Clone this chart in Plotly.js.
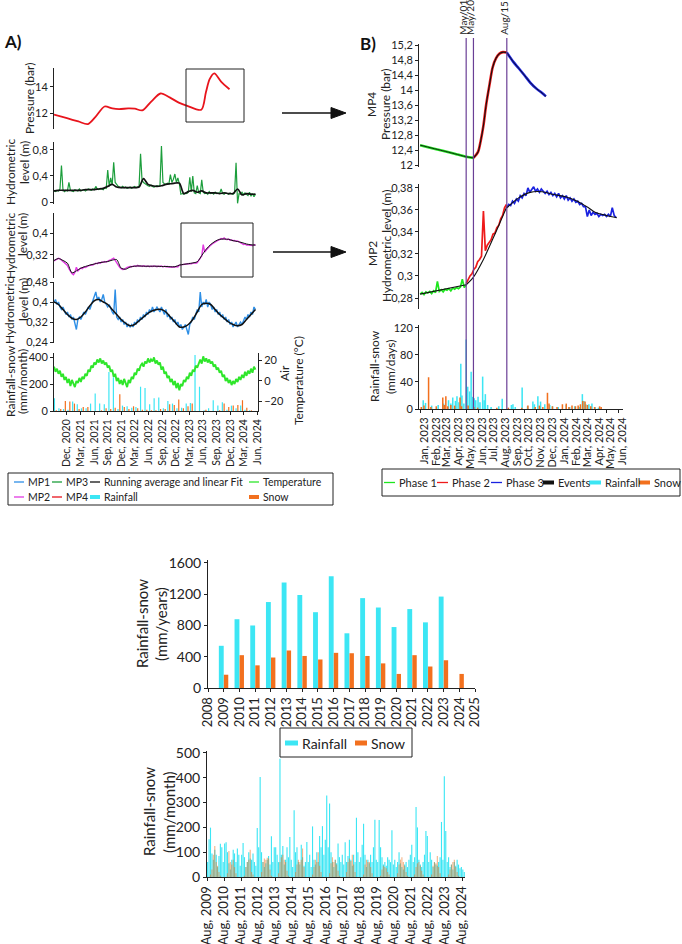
<!DOCTYPE html>
<html>
<head>
<meta charset="utf-8">
<script src="https://cdn.plot.ly/plotly-3.0.1.min.js"></script>
<style>
  html, body { margin: 0; padding: 0; background: #fff; }
  #chart { width: 682px; height: 944px; }
</style>
</head>
<body>
<div id="chart"></div>
<script>
// ---------------- Panel A : monitoring 2020-2024 ----------------
// MP4 pressure (bar), key points of the smoothed record
const pressA_dates = ['2020-09-05','2020-12-01','2021-02-15','2021-04-20','2021-06-10','2021-08-10','2021-10-01','2021-11-15','2022-01-15','2022-03-01','2022-04-20','2022-06-20','2022-08-20','2022-10-20','2022-12-20','2023-02-15','2023-05-20','2023-06-20','2023-07-15','2023-08-15','2023-10-01','2023-11-25'];
const pressA = [11.87,11.6,11.35,11.15,11.7,12.5,12.35,12.3,12.35,12.33,12.2,12.9,13.5,13.2,12.8,12.55,12.25,13.6,14.6,15.05,14.4,13.83];

// 10-day samples starting 2020-09-05
const A_START = '2020-09-05';
const A_STEP = 10;
const mp3 = [0.17,0.16,0.18,0.17,0.2,0.56,0.19,0.16,0.18,0.17,
  0.3,0.18,0.17,0.16,0.19,0.18,0.17,0.2,0.17,0.18,
  0.19,0.17,0.18,0.2,0.19,0.18,0.2,0.19,0.24,0.2,
  0.19,0.21,0.2,0.19,0.22,0.21,0.49,0.24,0.37,0.26,
  0.61,0.3,0.27,0.24,0.23,0.22,0.24,0.22,0.23,0.21,
  0.22,0.23,0.21,0.22,0.24,0.22,0.23,0.24,0.74,0.33,
  0.3,0.28,0.26,0.25,0.24,0.26,0.24,0.23,0.24,0.25,
  0.24,0.25,0.86,0.3,0.28,0.27,0.29,0.28,0.42,0.3,
  0.35,0.43,0.3,0.37,0.28,0.12,0.13,0.12,0.14,0.13,
  0.15,0.38,0.16,0.4,0.14,0.13,0.25,0.14,0.13,0.34,
  0.15,0.13,0.14,0.12,0.16,0.13,0.14,0.12,0.15,0.13,
  0.14,0.13,0.2,0.13,0.12,0.14,0.13,0.12,0.14,0.13,
  0.12,0.14,0.6,-0.02,0.13,0.12,0.15,0.11,0.14,0.12,
  0.1,0.15,0.09,0.13,0.08,0.12];
const mp2 = [0.298,0.302,0.305,0.308,0.306,0.300,0.296,0.292,0.288,0.282,
  0.27,0.26,0.252,0.248,0.256,0.275,0.262,0.268,0.272,0.27,
  0.276,0.274,0.278,0.28,0.282,0.284,0.283,0.287,0.29,0.288,
  0.292,0.29,0.294,0.293,0.296,0.294,0.298,0.30,0.302,0.305,
  0.308,0.30,0.29,0.282,0.275,0.27,0.267,0.268,0.272,0.275,
  0.276,0.278,0.277,0.279,0.28,0.278,0.282,0.279,0.28,0.278,
  0.281,0.279,0.278,0.28,0.277,0.279,0.278,0.28,0.279,0.277,
  0.279,0.278,0.28,0.276,0.279,0.277,0.278,0.276,0.277,0.275,
  0.277,0.276,0.278,0.276,0.283,0.284,0.285,0.286,0.287,0.286,
  0.288,0.289,0.288,0.29,0.291,0.29,0.292,0.30,0.31,0.316,
  0.358,0.33,0.338,0.345,0.35,0.356,0.36,0.364,0.368,0.372,
  0.374,0.376,0.38,0.378,0.382,0.377,0.376,0.378,0.374,0.375,
  0.372,0.373,0.37,0.371,0.368,0.366,0.362,0.358,0.36,0.356,
  0.357,0.355,0.356,0.354,0.358,0.355];
const mp1 = [0.40,0.41,0.39,0.40,0.38,0.37,0.38,0.36,0.35,0.36,
  0.34,0.35,0.33,0.34,0.32,0.29,0.33,0.34,0.33,0.35,
  0.36,0.35,0.37,0.38,0.37,0.39,0.40,0.42,0.44,0.41,
  0.42,0.40,0.41,0.43,0.40,0.39,0.38,0.39,0.37,0.36,
  0.35,0.45,0.34,0.33,0.34,0.32,0.33,0.31,0.32,0.30,
  0.31,0.30,0.31,0.30,0.32,0.31,0.33,0.32,0.34,0.33,
  0.35,0.34,0.36,0.35,0.37,0.36,0.38,0.36,0.37,0.38,
  0.37,0.36,0.38,0.36,0.35,0.37,0.34,0.35,0.33,0.34,
  0.32,0.33,0.31,0.32,0.30,0.31,0.29,0.30,0.31,0.29,
  0.27,0.31,0.32,0.34,0.33,0.35,0.37,0.36,0.44,0.38,
  0.40,0.39,0.41,0.38,0.40,0.39,0.37,0.38,0.36,0.37,
  0.35,0.36,0.34,0.35,0.33,0.34,0.32,0.33,0.31,0.32,
  0.30,0.31,0.32,0.30,0.31,0.32,0.31,0.33,0.34,0.33,
  0.35,0.34,0.36,0.35,0.38,0.37];
const tempA = [14,9,12,7,10,4,7,1,4,-2,
  2,-5,1,-3,-6,0,-2,3,-1,4,
  2,7,5,11,9,15,13,18,16,21,
  18,22,17,20,16,18,13,15,9,11,
  4,7,0,3,-3,1,-4,2,-2,-6,
  1,-2,4,2,8,6,12,10,15,17,
  14,19,17,22,18,21,19,23,17,20,
  16,18,11,14,7,9,3,5,-1,2,
  -4,0,-7,-2,-9,-3,-5,1,-1,4,
  2,8,5,11,9,15,13,18,21,17,
  24,19,22,18,21,17,19,14,16,11,
  13,8,10,4,6,0,3,-2,1,-4,
  0,-3,2,-1,4,1,6,3,9,5,
  10,7,12,8,14,11];

// running averages, 30-day samples starting 2020-09-05
const AVG_STEP = 30;
const mp3Avg = [0.17,0.18,0.18,0.18,0.18,0.18,0.18,0.19,0.19,0.19,
  0.2,0.21,0.24,0.27,0.23,0.22,0.22,0.22,0.22,0.23,
  0.36,0.27,0.25,0.24,0.25,0.27,0.28,0.29,0.29,0.13,
  0.16,0.18,0.15,0.17,0.14,0.14,0.14,0.13,0.14,0.13,
  0.13,0.2,0.11,0.13,0.12,0.12];
const mp2Avg = [0.30,0.307,0.30,0.29,0.255,0.262,0.272,0.278,0.283,0.287,
  0.291,0.294,0.296,0.301,0.303,0.272,0.268,0.276,0.279,0.28,
  0.279,0.279,0.279,0.279,0.278,0.278,0.277,0.277,0.283,0.286,
  0.288,0.291,0.295,0.318,0.341,0.358,0.37,0.377,0.378,0.377,
  0.372,0.369,0.365,0.36,0.357,0.356];
const mp1Avg = [0.40,0.39,0.37,0.35,0.335,0.33,0.34,0.36,0.385,0.405,
  0.41,0.40,0.39,0.37,0.35,0.33,0.315,0.305,0.31,0.325,
  0.34,0.355,0.365,0.37,0.37,0.36,0.34,0.32,0.30,0.30,
  0.31,0.33,0.36,0.39,0.395,0.39,0.37,0.35,0.335,0.32,
  0.31,0.305,0.31,0.33,0.35,0.37];

// monthly rainfall / snow (mm/month), Sep 2020 - May 2024
const rainA = [95,20,15,10,70,50,20,20,55,130,55,50,290,250,15,40,35,25,30,180,170,50,95,100,20,75,55,20,25,55,60,415,180,5,20,80,40,65,10,40,20,40,10,5,0];
const snowA = [5,15,75,70,55,15,30,30,0,0,5,20,15,25,125,30,15,35,20,10,10,5,5,15,15,50,45,85,20,35,55,0,0,10,0,0,5,55,30,40,45,80,25,5,0];

// ---------------- Panel B : 2023-2024 detail ----------------
const p1Dates = ['2023-01-01','2023-02-01','2023-03-01','2023-04-01','2023-05-01','2023-05-20'];
const p1Press = [12.53,12.45,12.38,12.30,12.22,12.19];
const p2Dates = ['2023-05-20','2023-06-01','2023-06-08','2023-06-15','2023-06-22','2023-07-01','2023-07-09','2023-07-18','2023-07-27','2023-08-05','2023-08-15'];
const p2Press = [12.19,12.35,12.65,13.05,13.6,14.15,14.6,14.85,14.97,15.01,15.0];
const p3Dates = ['2023-08-15','2023-09-01','2023-09-15','2023-10-01','2023-10-15','2023-11-01','2023-11-15','2023-11-25'];
const p3Press = [15.0,14.75,14.58,14.38,14.2,14.03,13.92,13.83];

// MP2 level, 5-day samples per phase
const B_STEP = 5;
const ph1Start = '2023-01-01';
const ph1Level = [0.2835,0.2850,0.2830,0.2855,0.2845,0.2860,0.2840,0.2865,0.2850,0.2950,0.2860,0.2875,0.2855,0.2880,0.2870,0.2885,0.2865,0.2890,0.2880,0.2895,0.2885,0.2900,0.2970,0.2895,0.2920];
const ph2Start = '2023-05-01';
const ph2Level = [0.293,0.297,0.300,0.302,0.306,0.308,0.313,0.315,0.318,0.359,0.323,0.328,0.330,0.333,0.338,0.339,0.344,0.346,0.352,0.355,0.362,0.365];
const ph3Start = '2023-08-15';
const ph3Level = [0.362,0.365,0.364,0.368,0.366,0.370,0.368,0.373,0.371,0.375,
  0.373,0.380,0.376,0.378,0.381,0.377,0.379,0.376,0.379,0.377,
  0.375,0.377,0.374,0.376,0.373,0.375,0.372,0.375,0.371,0.373,
  0.370,0.373,0.369,0.371,0.368,0.370,0.367,0.368,0.365,0.366,
  0.363,0.363,0.354,0.360,0.355,0.358,0.356,0.357,0.354,0.356,
  0.355,0.356,0.354,0.356,0.354,0.362,0.355,0.353];
const fit1Dates = ['2023-01-01','2023-05-01'];
const fit1 = [0.2835,0.292];
const fit2Dates = ['2023-05-01','2023-05-20','2023-06-15','2023-07-15','2023-08-15'];
const fit2 = [0.292,0.299,0.315,0.338,0.363];
const fit3Dates = ['2023-08-15','2023-09-15','2023-10-15','2023-11-15','2023-12-15','2024-01-15','2024-02-15','2024-03-15','2024-04-01','2024-05-01','2024-05-28'];
const fit3 = [0.362,0.371,0.376,0.3765,0.374,0.372,0.368,0.362,0.358,0.355,0.353];

const eventDates = ['2023-05-01','2023-05-20','2023-08-15'];
const eventLabels = ['May/01','May/20','Aug/15'];

// daily rainfall and snow (mm/day), days with a reading
const rainB_dates = ['2023-01-09','2023-01-15','2023-01-31','2023-02-17','2023-03-03','2023-03-16','2023-03-22','2023-03-27','2023-04-03','2023-04-07','2023-04-12','2023-04-17','2023-04-20','2023-04-25','2023-05-01','2023-05-05','2023-05-10','2023-05-14','2023-05-18','2023-05-22','2023-05-26','2023-06-01','2023-06-06','2023-06-13','2023-06-17','2023-06-20','2023-06-26','2023-07-05','2023-07-25','2023-08-03','2023-08-27','2023-08-31','2023-09-06','2023-09-24','2023-10-08','2023-10-22','2023-10-26','2023-11-04','2023-11-11','2023-11-22','2023-12-05','2023-12-12','2023-12-27','2024-01-17','2024-01-26','2024-02-08','2024-02-20','2024-02-28','2024-03-03','2024-03-08','2024-03-16','2024-03-24','2024-04-01','2024-04-10'];
const rainB = [13,9,5,6,8,13,8,17,12,19,10,67,20,8,103,33,26,55,18,16,13,18,10,48,13,22,6,3,4,15,6,7,3,32,4,11,7,19,11,7,6,4,3,6,3,4,3,22,12,7,7,8,3,2];
const snowB_dates = ['2023-01-04','2023-01-11','2023-01-23','2023-01-29','2023-02-12','2023-03-01','2023-03-05','2023-03-09','2023-03-14','2023-03-22','2023-04-01','2023-04-15','2023-04-19','2023-05-06','2023-05-21','2023-05-31','2023-07-20','2023-08-19','2023-09-23','2023-10-09','2023-10-28','2023-11-08','2023-11-17','2023-11-29','2023-12-03','2023-12-12','2023-12-24','2024-01-07','2024-01-17','2024-01-24','2024-02-01','2024-02-10','2024-02-17','2024-02-23','2024-02-29','2024-03-06','2024-03-12','2024-03-21','2024-03-31','2024-04-13','2024-04-17'];
const snowB = [3,5,47,3,4,17,6,19,4,6,5,17,4,5,3,2,2,2,2,5,3,5,3,24,8,4,3,7,8,3,5,4,5,7,12,11,6,4,3,4,3];

// ---------------- Annual totals 2009-2024 ----------------
const years = [2009,2010,2011,2012,2013,2014,2015,2016,2017,2018,2019,2020,2021,2022,2023,2024];
const rainYear = [540,880,800,1100,1350,1190,970,1430,700,1150,1030,780,1010,840,1170,null];
const snowYear = [170,420,290,390,480,410,365,450,445,410,315,180,420,275,355,180];

// ---------------- Monthly record, Aug 2009 - Sep 2024 ----------------
const rainMonth = [60,152,199,95,70,110,90,40,85,134,120,60,
  135,140,100,55,30,70,110,95,60,115,90,45,
  90,137,80,40,60,100,75,70,95,60,45,198,
  120,403,100,60,40,55,70,85,50,164,60,120,
  120,90,60,477,90,125,50,70,120,80,161,70,
  40,269,100,120,60,50,130,80,45,60,141,60,
  90,40,204,70,50,100,60,165,120,205,90,150,
  329,120,296,100,60,40,70,55,135,80,60,90,
  50,140,60,85,150,70,45,90,60,239,100,60,
  80,130,215,90,40,70,55,90,60,120,231,70,
  60,230,120,80,50,60,45,80,70,60,188,50,
  70,40,60,100,55,40,30,50,60,40,70,90,
  130,60,80,282,200,70,50,40,60,90,185,165,
  60,100,70,40,60,50,45,60,80,222,70,406,
  185,60,80,40,50,30,60,45,70,50,35,40,30,20];
const snowMonth = [0,0,10,30,90,125,60,45,20,5,0,0,
  0,0,15,105,60,50,70,40,15,0,0,0,
  0,0,5,40,60,70,110,20,10,0,0,0,
  0,0,20,60,75,70,78,75,30,5,0,0,
  0,0,15,60,80,90,70,60,25,5,0,0,
  0,0,20,50,70,60,70,115,40,0,0,0,
  0,0,10,40,70,60,100,45,20,0,0,0,
  0,0,15,55,80,60,70,50,25,5,0,0,
  0,0,20,60,75,65,90,50,20,0,0,0,
  0,0,10,50,70,60,60,40,15,0,0,0,
  0,0,5,30,45,40,35,20,10,0,0,0,
  0,0,15,50,70,80,60,45,20,5,0,0,
  0,0,10,40,55,60,45,25,10,0,0,0,
  0,0,10,45,60,55,85,40,15,0,0,0,
  0,0,10,30,50,60,70,40,20,5,0,0,0,0];

// ---------------- helpers ----------------
const W = 682, H = 944;
const X = px => px / W;
const Y = py => 1 - py / H;
const DAY = 86400000;
const FONT = 'Lato, "Noto Sans", sans-serif';
const INK = '#222';

function daySeries(start, step, n) {
  const t0 = Date.parse(start + 'T00:00:00Z');
  const out = [];
  for (let i = 0; i < n; i++) out.push(new Date(t0 + i * step * DAY).toISOString().slice(0, 10));
  return out;
}
function monthSeries(year, month, n) {
  const out = [];
  for (let i = 0; i < n; i++) {
    const m = month - 1 + i;
    const y = year + Math.floor(m / 12);
    out.push(y + '-' + String((m % 12) + 1).padStart(2, '0') + '-15');
  }
  return out;
}

const C = {
  mp1: '#2e8fe6', mp2: '#e23ae2', mp3: '#1c9e3c', mp4: '#e8141c',
  temp: '#2ee62a', rain: '#3ce6f4', snow: '#f2701e',
  ph1: '#1ee61e', ph2: '#ee1a1a', ph3: '#1a22e0', evt: '#6a3f96'
};

const aDates = daySeries(A_START, A_STEP, mp1.length);
const aAvgDates = daySeries(A_START, AVG_STEP, mp1Avg.length);
const aMonths = monthSeries(2020, 9, rainA.length);
const bottomMonths = monthSeries(2009, 8, rainMonth.length);

const line = (x, y, xa, ya, color, width) => ({
  type: 'scatter', mode: 'lines', x, y, xaxis: xa, yaxis: ya,
  line: { color, width }, hoverinfo: 'skip'
});
const bars = (x, y, xa, ya, color, offset, width) => ({
  type: 'bar', x, y, xaxis: xa, yaxis: ya, offset, width,
  marker: { color, line: { width: 0 } }, hoverinfo: 'skip'
});
function sp(tr) { tr.line.shape = 'spline'; tr.line.smoothing = 0.8; return tr; }

const traces = [
  // Panel A
  sp(line(pressA_dates, pressA, 'x', 'y', C.mp4, 1.8)),
  line(aDates, mp3, 'x', 'y2', C.mp3, 1.2),
  sp(line(aAvgDates, mp3Avg, 'x', 'y2', '#111', 1.7)),
  line(aDates, mp2, 'x', 'y3', C.mp2, 1.4),
  sp(line(aAvgDates, mp2Avg, 'x', 'y3', '#111', 1.0)),
  line(aDates, mp1, 'x', 'y4', C.mp1, 1.4),
  sp(line(aAvgDates, mp1Avg, 'x', 'y4', '#111', 1.5)),
  bars(aMonths, rainA, 'x', 'y5', C.rain, -11 * DAY, 8 * DAY),
  bars(aMonths, snowA, 'x', 'y5', C.snow, 1 * DAY, 8 * DAY),
  line(aDates, tempA, 'x', 'y6', C.temp, 1.9),

  // Panel B : pressure by phase, fitted line on top
  sp(line(p1Dates, p1Press, 'x2', 'y7', C.ph1, 2.6)),
  sp(line(p2Dates, p2Press, 'x2', 'y7', C.ph2, 2.6)),
  sp(line(p3Dates, p3Press, 'x2', 'y7', C.ph3, 2.6)),
  sp(line(p1Dates, p1Press, 'x2', 'y7', '#111', 0.9)),
  sp(line(p2Dates, p2Press, 'x2', 'y7', '#111', 1.1)),
  sp(line(p3Dates, p3Press, 'x2', 'y7', '#111', 0.9)),
  // Panel B : MP2 level by phase
  line(daySeries(ph1Start, B_STEP, ph1Level.length), ph1Level, 'x2', 'y8', C.ph1, 1.7),
  line(daySeries(ph2Start, B_STEP, ph2Level.length), ph2Level, 'x2', 'y8', C.ph2, 1.7),
  line(daySeries(ph3Start, B_STEP, ph3Level.length), ph3Level, 'x2', 'y8', C.ph3, 1.7),
  line(fit1Dates, fit1, 'x2', 'y8', '#111', 1.1),
  sp(line(fit2Dates, fit2, 'x2', 'y8', '#111', 1.1)),
  sp(line(fit3Dates, fit3, 'x2', 'y8', '#111', 1.1)),
  // Panel B : daily precipitation
  bars(rainB_dates, rainB, 'x2', 'y9', C.rain, -2 * DAY, 4 * DAY),
  bars(snowB_dates, snowB, 'x2', 'y9', C.snow, -2 * DAY, 4 * DAY),

  // Annual totals
  bars(years, rainYear, 'x3', 'y10', C.rain, -0.31, 0.31),
  bars(years, snowYear, 'x3', 'y10', C.snow, 0.01, 0.28),

  // Monthly record
  bars(bottomMonths, rainMonth, 'x4', 'y11', C.rain, -12 * DAY, 24 * DAY),
  bars(bottomMonths, snowMonth, 'x4', 'y11', 'rgba(236,120,40,0.55)', -12 * DAY, 24 * DAY)
];

// ---------------- axes ----------------
function yax(topPx, botPx, range, extra) {
  return Object.assign({
    domain: [Y(botPx), Y(topPx)], range, showline: true, linecolor: INK, linewidth: 1,
    ticks: 'outside', ticklen: 3, tickcolor: INK, showgrid: false, zeroline: false,
    tickfont: { family: FONT, size: 11, color: INK }, fixedrange: true
  }, extra);
}
function xax(leftPx, rightPx, range, extra) {
  return Object.assign({
    domain: [X(leftPx), X(rightPx)], range, showline: true, linecolor: INK, linewidth: 1,
    ticks: 'outside', ticklen: 3, tickcolor: INK, showgrid: false, zeroline: false,
    tickangle: -90, tickfont: { family: FONT, size: 10.5, color: INK }, fixedrange: true
  }, extra);
}
const bTick = { family: FONT, size: 11, color: INK };

const layout = {
  width: W, height: H,
  margin: { l: 0, r: 0, t: 0, b: 0, pad: 0 },
  paper_bgcolor: '#fff', plot_bgcolor: '#fff',
  showlegend: false, barmode: 'overlay', separators: ',.',
  font: { family: FONT, color: INK },

  xaxis: xax(54, 258, ['2020-09-05', '2024-06-03'], { type: 'date', anchor: 'y5', tickformat: '%b, %Y', dtick: 'M3', tick0: '2020-12-01' }),
  yaxis: yax(68, 129, [10.77, 15.46], { anchor: 'x', tickvals: [12, 14] }),
  yaxis2: yax(142, 204, [-0.03, 0.92], { anchor: 'x', tickvals: [0, 0.4, 0.8] }),
  yaxis3: yax(213, 278, [0.236, 0.473], { anchor: 'x', tickvals: [0.32, 0.4] }),
  yaxis4: yax(282, 343, [0.236, 0.48], { anchor: 'x', tickvals: [0.24, 0.32, 0.4, 0.48] }),
  yaxis5: yax(353, 411, [0, 430], { anchor: 'x', tickvals: [0, 200, 400] }),
  yaxis6: yax(353, 411, [-29.3, 27.3], { anchor: 'x', overlaying: 'y5', side: 'right', tickvals: [-20, 0, 20] }),

  xaxis2: xax(419, 623, ['2022-12-29', '2024-06-13'], { type: 'date', anchor: 'y9', tickformat: '%b, %Y', dtick: 'M1', tick0: '2023-01-01', ticklabelshift: 4, tickfont: { family: FONT, size: 11, color: INK } }),
  yaxis7: yax(44, 167, [11.947, 15.227], { anchor: 'x2', dtick: 0.4, tick0: 12, tickfont: bTick }),
  yaxis8: yax(184, 309, [0.27, 0.3836], { anchor: 'x2', dtick: 0.02, tick0: 0.28, tickfont: bTick }),
  yaxis9: yax(325, 409, [0, 124.4], { anchor: 'x2', dtick: 40, tick0: 0, tickfont: bTick }),

  xaxis3: xax(208, 475, [2008, 2025], { anchor: 'y10', dtick: 1, tick0: 2008, tickfont: { family: FONT, size: 13, color: INK } }),
  yaxis10: yax(560, 688, [0, 1638], { anchor: 'x3', dtick: 400, tick0: 0, tickfont: { family: FONT, size: 14, color: INK } }),

  xaxis4: xax(207, 465, ['2009-08-01', '2024-10-01'], { type: 'date', anchor: 'y11', tickformat: '%b, %Y', dtick: 'M12', tick0: '2009-08-01', tickfont: { family: FONT, size: 13, color: INK } }),
  yaxis11: yax(751, 877, [0, 508], { anchor: 'x4', dtick: 100, tick0: 0, tickfont: { family: FONT, size: 14, color: INK } }),

  shapes: [], annotations: []
};

const S = layout.shapes, A = layout.annotations;
function note(text, xpx, ypx, opt) {
  A.push(Object.assign({
    text, xref: 'paper', yref: 'paper', x: X(xpx), y: Y(ypx), showarrow: false,
    xanchor: 'center', yanchor: 'middle', font: { family: FONT, size: 12, color: INK }
  }, opt || {}));
}
function vtitle(text, xpx, ypx, size) {
  note(text, xpx, ypx, { textangle: -90, font: { family: FONT, size, color: INK } });
}
function rect(x0, y0, x1, y1, w) {
  S.push({ type: 'rect', xref: 'paper', yref: 'paper', x0: X(x0), x1: X(x1), y0: Y(y0), y1: Y(y1), line: { color: INK, width: w || 1 } });
}
function seg(x0, x1, y, color, width) {
  S.push({ type: 'line', xref: 'paper', yref: 'paper', x0: X(x0), x1: X(x1), y0: Y(y), y1: Y(y), line: { color, width } });
}
function arrow(x0, tip, y) {
  seg(x0, tip - 12, y, '#111', 1.5);
  S.push({ type: 'path', xref: 'paper', yref: 'paper', fillcolor: '#111', line: { color: '#111', width: 1 },
    path: `M ${X(tip - 15)} ${Y(y - 5.5)} L ${X(tip)} ${Y(y)} L ${X(tip - 15)} ${Y(y + 5.5)} Z` });
}

// panel letters
note('<b>A)</b>', 13, 41, { font: { family: FONT, size: 17, color: '#111' } });
note('<b>B)</b>', 368, 43, { font: { family: FONT, size: 17, color: '#111' } });

// panel A axis titles, one line at a time
vtitle('Pressure (bar)', 29, 98, 12);
vtitle('Hydrometric', 11, 172, 12);
vtitle('level (m)', 24, 163, 12);
vtitle('Hydrometric', 10, 246, 12);
vtitle('level (m)', 23, 235, 12);
vtitle('Hydrometric', 10, 311, 12);
vtitle('level (m)', 23, 300, 12);
vtitle('Rainfall-snow', 10, 381, 12);
vtitle('(mm/month)', 23, 382, 12);
vtitle('Air', 284, 373, 12);
vtitle('Temperature (°C)', 298, 381, 12);

// zoom boxes and arrows towards panel B
rect(186, 69, 244, 122);
rect(181, 223, 253, 277);
arrow(282, 346, 113);
arrow(273, 346, 252);

// panel B axis titles
vtitle('MP4', 372, 105, 12);
vtitle('Pressure (bar)', 386, 105, 12);
vtitle('MP2', 372, 254, 12);
vtitle('Hydrometric level (m)', 386, 246, 12);
vtitle('Rainfall-snow', 375, 366, 12);
vtitle('(mm/days)', 390, 367, 12);

// event lines across panel B
eventDates.forEach((d, i) => {
  S.push({ type: 'line', xref: 'x2', yref: 'paper', x0: d, x1: d, y0: Y(409), y1: Y(38), line: { color: C.evt, width: 1.2 } });
  A.push({ text: eventLabels[i], xref: 'x2', yref: 'paper', x: d, y: Y(37), xshift: -3, showarrow: false,
    textangle: -90, xanchor: 'center', yanchor: 'bottom', font: { family: FONT, size: 10, color: INK } });
});

// bottom charts axis titles
vtitle('Rainfall-snow', 142, 624, 15);
vtitle('(mm/years)', 161, 624, 15);
vtitle('Rainfall-snow', 149, 812, 15);
vtitle('(mm/month)', 169, 812, 15);

// legends drawn as keys + labels
function key(x0, x1, y, color, width, label, size) {
  seg(x0, x1, y, color, width);
  note(label, x1 + 2, y, { xanchor: 'left', font: { family: FONT, size, color: INK } });
}
rect(8, 473, 333, 505);
key(14, 24, 482, C.mp1, 1.3, 'MP1', 10.5);
key(52, 62, 482, C.mp3, 1.3, 'MP3', 10.5);
key(90, 100, 482, '#111', 1.3, 'Running average and linear Fit', 10.5);
key(249, 259, 482, C.temp, 1.3, 'Temperature', 10.5);
key(14, 24, 497, C.mp2, 1.3, 'MP2', 10.5);
key(52, 62, 497, C.mp4, 1.3, 'MP4', 10.5);
key(90, 100, 497, C.rain, 4, 'Rainfall', 10.5);
key(249, 259, 497, C.snow, 4, 'Snow', 10.5);

rect(382, 469, 680, 496);
key(384, 395, 482.5, C.ph1, 1.3, 'Phase 1', 11);
key(437, 448, 482.5, C.ph2, 1.3, 'Phase 2', 11);
key(491, 502, 482.5, C.ph3, 1.3, 'Phase 3', 11);
key(543, 554, 482.5, '#111', 4, 'Events', 11);
key(589, 601, 482.5, C.rain, 4, 'Rainfall', 11);
key(639, 650, 482.5, C.snow, 4, 'Snow', 11);

rect(280, 728, 412, 757);
key(285, 298, 743, C.rain, 5, 'Rainfall', 14);
key(355, 367, 743, C.snow, 5, 'Snow', 14);

Plotly.newPlot('chart', traces, layout, { staticPlot: true, displayModeBar: false });
</script>
</body>
</html>
